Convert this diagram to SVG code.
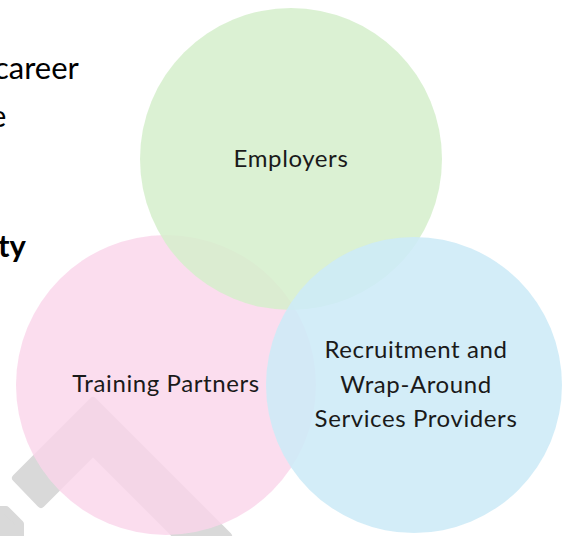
<svg xmlns="http://www.w3.org/2000/svg" width="566" height="536" viewBox="0 0 566 536">
  <style>
    .doc { font-family: "Lato", "Open Sans", "Liberation Sans", sans-serif; fill: #000000; font-size: 31px; }
    .lbl { font-family: "Lato", "Noto Sans", "Liberation Sans", sans-serif; fill: #1a1a1a; font-size: 24px; letter-spacing: 0.6px; text-anchor: middle; }
    .wm { fill: #d9d9d9; stroke: #d9d9d9; stroke-width: 8; stroke-linejoin: round; }
  </style>
  <rect width="566" height="536" fill="#ffffff"/>
  <g id="page-text">
    <text class="doc" x="-6" y="79">career</text>
    <text class="doc" x="-10" y="127">e</text>
    <text class="doc" x="-2" y="257" font-weight="bold">ty</text>
  </g>
  <g id="watermark">
    <polygon class="wm" points="16,478 93,401 228,536 177,536 93,452 41,504"/>
    <polygon class="wm" points="0,510 6,510 20,524 20,536 0,536"/>
  </g>
  <g id="training-partners">
    <circle cx="166" cy="385" r="150" fill="#fad6ea" fill-opacity="0.82"/>
    <text class="lbl" x="166" y="392">Training Partners</text>
  </g>
  <g id="employers">
    <circle cx="291" cy="159" r="151" fill="#d5efcb" fill-opacity="0.85"/>
    <text class="lbl" x="291" y="167">Employers</text>
  </g>
  <g id="recruitment">
    <circle cx="414" cy="385" r="148" fill="#cdebf7" fill-opacity="0.88"/>
    <text class="lbl" x="416" y="358">Recruitment and</text>
    <text class="lbl" x="416" y="393">Wrap-Around</text>
    <text class="lbl" x="416" y="427">Services Providers</text>
  </g>
  <g id="connectors"></g>
</svg>
